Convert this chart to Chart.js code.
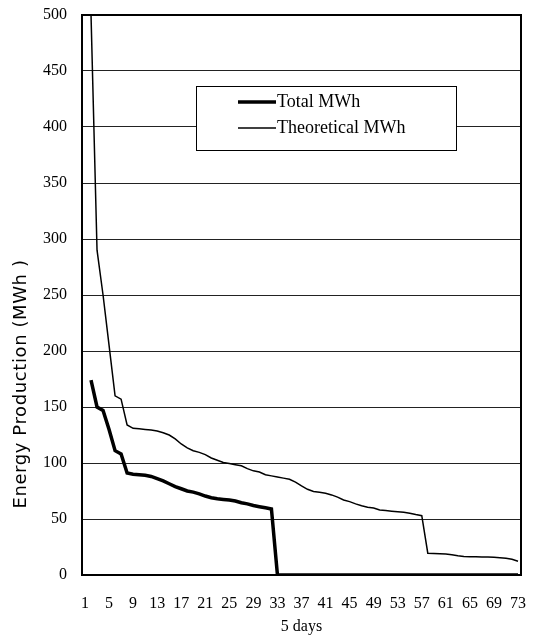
<!DOCTYPE html>
<html>
<head>
<meta charset="utf-8">
<script src="https://cdn.jsdelivr.net/npm/chart.js@4/dist/chart.umd.min.js"></script>
<style>
  body { margin: 0; background: #fff; }
  #wrap { width: 534px; height: 636px; }
</style>
</head>
<body>
<div id="wrap"><canvas id="myChart"></canvas></div>
<script>
// 5-day periods on the x axis
var categories = ['1','2','3','4','5','6','7','8','9','10','11','12','13','14','15','16','17','18','19','20',
  '21','22','23','24','25','26','27','28','29','30','31','32','33','34','35','36','37','38','39','40',
  '41','42','43','44','45','46','47','48','49','50','51','52','53','54','55','56','57','58','59','60',
  '61','62','63','64','65','66','67','68','69','70','71','72','73'];
var shownTicks = ['1','5','9','13','17','21','25','29','33','37','41','45','49','53','57','61','65','69','73'];

var totalMWh = [null,174,150,147,130,111,108,91,90,89.5,89,88,86,84,81.5,79,77,75,74,72.5,
  70.5,69,68,67.5,67,66,64.5,63.5,62,61,60,59,0,0,0,0,0,0,0,0,
  0,0,0,0,0,0,0,0,0,0,0,0,0,0,0,0,0,0,0,0,
  0,0,0,0,0,0,0,0,0,0,0,0,0];
var theoreticalMWh = [null,500,290,250,205,160,157,134,131,130.5,130,129.5,128.5,127,125,121.5,117,113.5,111,109.5,
  107.5,104.5,102.5,100.5,99.5,98.5,97.5,95,93,92,89.5,88.5,87.5,86.5,85.5,83,79.5,76.5,74.5,73.8,
  73,71.5,69.5,67,65.5,63.5,61.8,60.5,59.8,58,57.5,57,56.5,56,55.2,54,53,19.5,19.2,19,
  18.7,18,17.2,16.6,16.3,16.2,16,16,15.8,15.5,15,14,12.3];

Chart.defaults.font.family = "'Liberation Serif', serif";
Chart.defaults.color = '#000';

// frame round the plot, y title and the boxed legend
var extras = {
  id: 'extras',
  afterDraw: function(chart) {
    var c = chart.ctx, a = chart.chartArea;
    c.save();
    c.strokeStyle = '#000';
    c.lineWidth = 2;
    c.strokeRect(a.left, a.top, a.right - a.left, a.bottom - a.top);

    c.translate(21, 384);
    c.rotate(-Math.PI / 2);
    c.font = "18px 'DejaVu Sans'";
    c.letterSpacing = '0.6px';
    c.textAlign = 'center';
    c.textBaseline = 'middle';
    c.fillStyle = '#000';
    c.fillText('Energy Production (MWh )', 0, 0);
    c.restore();

    c.save();
    c.fillStyle = '#fff';
    c.fillRect(196, 86, 261, 65);
    c.strokeStyle = '#000';
    c.lineWidth = 1;
    c.strokeRect(196.5, 86.5, 260, 64);
    c.font = "18px 'Liberation Serif'";
    c.textBaseline = 'middle';
    c.fillStyle = '#000';
    chart.data.datasets.forEach(function(ds, i) {
      var y = 102 + i * 26;
      c.beginPath();
      c.lineWidth = ds.borderWidth;
      c.moveTo(238, y);
      c.lineTo(276, y);
      c.stroke();
      c.fillText(ds.label, 277, y);
    });
    c.restore();
  }
};

var ctx = document.getElementById('myChart').getContext('2d');
var myChart = new Chart(ctx, {
  type: 'line',
  data: {
    labels: categories,
    datasets: [{
      label: 'Total MWh',
      data: totalMWh,
      borderColor: '#000',
      borderWidth: 3.5,
      pointRadius: 0,
      tension: 0
    }, {
      label: 'Theoretical MWh',
      data: theoreticalMWh,
      borderColor: '#000',
      borderWidth: 1.5,
      pointRadius: 0,
      tension: 0
    }]
  },
  options: {
    responsive: true,
    maintainAspectRatio: false,
    animation: false,
    layout: { padding: { top: 15, right: 13, left: 0, bottom: 0 } },
    plugins: {
      legend: { display: false },
      tooltip: { enabled: false }
    },
    scales: {
      x: {
        offset: true,
        grid: { display: false, drawTicks: false },
        border: { color: '#000', width: 1.5 },
        ticks: {
          autoSkip: false,
          maxRotation: 0,
          minRotation: 0,
          padding: 19,
          font: { size: 16 },
          callback: function(v, i) {
            var l = categories[i];
            return shownTicks.indexOf(l) >= 0 ? l : null;
          }
        },
        title: { display: true, text: '5 days', font: { size: 16 }, padding: { top: 0, bottom: 0 } },
        afterFit: function(s) {
          s.height = 61;
          s.paddingLeft = 0;
          s.paddingRight = 0;
        }
      },
      y: {
        min: 0,
        max: 500,
        grid: { color: '#222', lineWidth: 1, drawTicks: false },
        border: { color: '#000', width: 2 },
        ticks: { stepSize: 50, padding: 15, font: { size: 16 } },
        afterFit: function(s) {
          s.width = 82;
          s.paddingTop = 0;
          s.paddingBottom = 0;
        }
      }
    }
  },
  plugins: [extras]
});
</script>
</body>
</html>
